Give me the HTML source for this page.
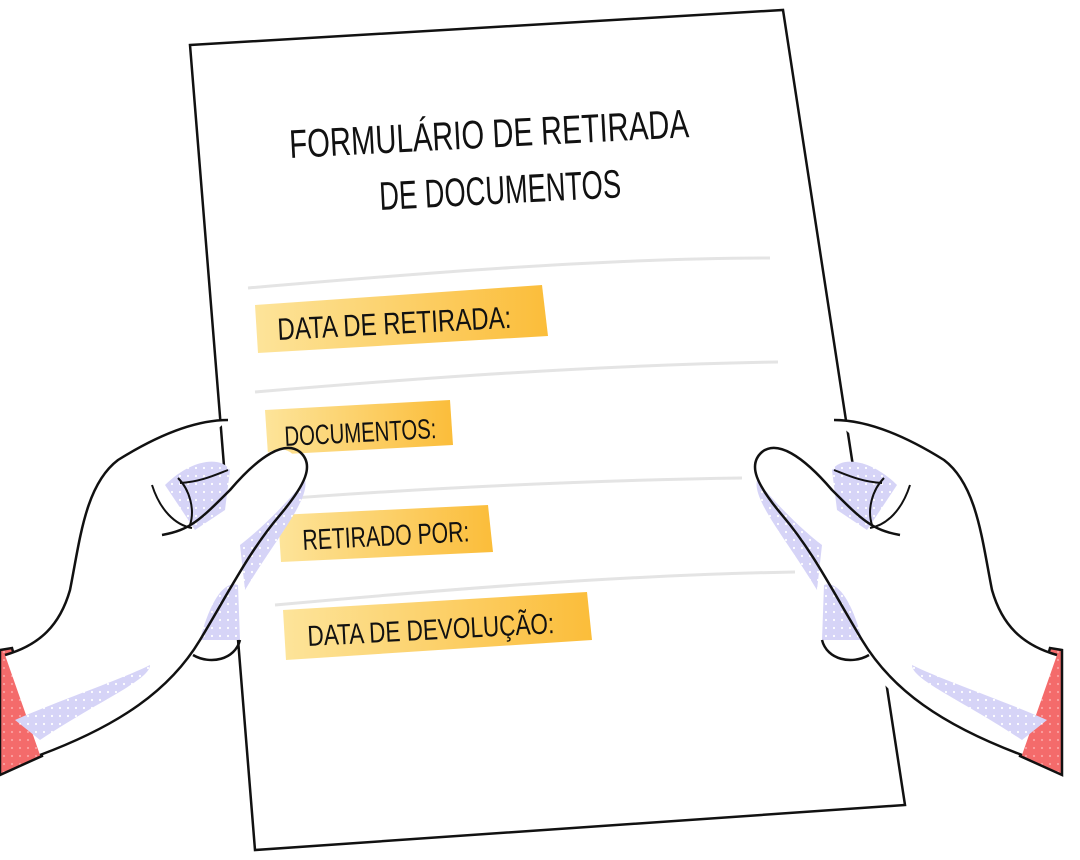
<!DOCTYPE html>
<html><head><meta charset="utf-8"><style>
html,body{margin:0;padding:0;background:#fff;}
svg{display:block}
.t{font-family:"Liberation Sans Narrow","Liberation Sans",sans-serif;fill:#111;}
</style></head><body>
<svg width="1080" height="860" viewBox="0 0 1080 860" xmlns="http://www.w3.org/2000/svg">
<defs>
<pattern id="dots" width="8" height="8" patternUnits="userSpaceOnUse">
<rect width="8" height="8" fill="#d6d4f7"/><circle cx="4" cy="4" r="1.1" fill="#fff"/></pattern>
<pattern id="rdots" width="8" height="8" patternUnits="userSpaceOnUse">
<rect width="8" height="8" fill="#f46b6b"/><circle cx="4" cy="4" r="1.1" fill="#fba0a0"/></pattern>
<linearGradient id="yg" x1="0" x2="1"><stop offset="0" stop-color="#fde49a"/><stop offset="1" stop-color="#fbbd3a"/></linearGradient>
<g id="hand">
<path d="M0,650 L12,648 L42,756 L0,775 Z" fill="url(#rdots)" stroke="#111" stroke-width="2.5"/>
<path d="M228,420 C190,420 150,440 118,460 C85,485 80,540 70,590 C60,625 40,645 5,655 L40,755 C100,735 160,720 200,655 C220,620 240,570 280,520 C300,495 315,470 290,452 C270,440 240,470 200,520 C180,535 170,535 160,535 L170,470 Z" fill="#fff"/>
<path d="M165,485 C190,460 220,455 230,470 L225,510 L195,530 Z" fill="url(#dots)"/>
<path d="M15,720 C60,700 120,680 150,665 C150,680 100,700 40,740 Z" fill="url(#dots)"/>
<path d="M240,545 C260,530 290,500 305,480 C310,500 275,540 245,590 Z" fill="url(#dots)"/>
<path d="M200,640 C210,600 225,580 238,585 L240,640 Z" fill="url(#dots)"/>
<path d="M228,420 C190,420 150,440 118,460 C85,485 80,540 70,590 C60,625 40,645 5,655" fill="none" stroke="#111" stroke-width="2.5"/>
<path d="M162,535 C190,530 200,520 230,490 C260,455 285,440 300,452 C315,465 305,485 280,515 C250,550 230,590 200,640 C170,690 120,725 40,755" fill="none" stroke="#111" stroke-width="2.5"/>
<path d="M152,485 C160,510 175,525 192,528 M178,478 C190,490 195,510 190,525 M180,483 C200,482 215,475 228,470" fill="none" stroke="#111" stroke-width="2"/>
<path d="M193,655 C210,665 235,660 240,640" fill="none" stroke="#111" stroke-width="2.5"/>
</g>
</defs>
<path d="M190,45 L783,10 L905,805 L255,850 Z" fill="#fff" stroke="#111" stroke-width="2.5"/>
<g fill="none" stroke="#e4e4e4" stroke-width="3">
<path d="M248,288 C400,275 600,258 770,258"/>
<path d="M255,392 C420,378 600,365 778,362"/>
<path d="M268,500 C420,488 600,480 742,478"/>
<path d="M275,605 C440,590 620,575 795,572"/>
</g>
<text class="t" x="290" y="158" font-size="40" textLength="400" lengthAdjust="spacingAndGlyphs" transform="rotate(-3 290 158)">FORMULÁRIO DE RETIRADA</text>
<text class="t" x="380" y="210" font-size="40" textLength="242" lengthAdjust="spacingAndGlyphs" transform="rotate(-3 380 210)">DE DOCUMENTOS</text>
<path d="M255,305 L542,285 L548,336 L258,353 Z" fill="url(#yg)"/>
<text class="t" x="278" y="340" font-size="31" textLength="234" lengthAdjust="spacingAndGlyphs" transform="rotate(-3 278 340)">DATA DE RETIRADA:</text>
<path d="M265,410 L450,400 L453,445 L268,455 Z" fill="url(#yg)"/>
<text class="t" x="285" y="446" font-size="28" textLength="152" lengthAdjust="spacingAndGlyphs" transform="rotate(-3 285 446)">DOCUMENTOS:</text>
<path d="M278,515 L488,505 L493,552 L281,562 Z" fill="url(#yg)"/>
<text class="t" x="303" y="550" font-size="29" textLength="167" lengthAdjust="spacingAndGlyphs" transform="rotate(-3 303 550)">RETIRADO POR:</text>
<path d="M283,610 L587,592 L592,640 L286,660 Z" fill="url(#yg)"/>
<text class="t" x="308" y="646" font-size="29" textLength="247" lengthAdjust="spacingAndGlyphs" transform="rotate(-3 308 646)">DATA DE DEVOLUÇÃO:</text>
<use href="#hand"/>
<use href="#hand" transform="translate(1062,0) scale(-1,1)"/>
</svg>
</body></html>
